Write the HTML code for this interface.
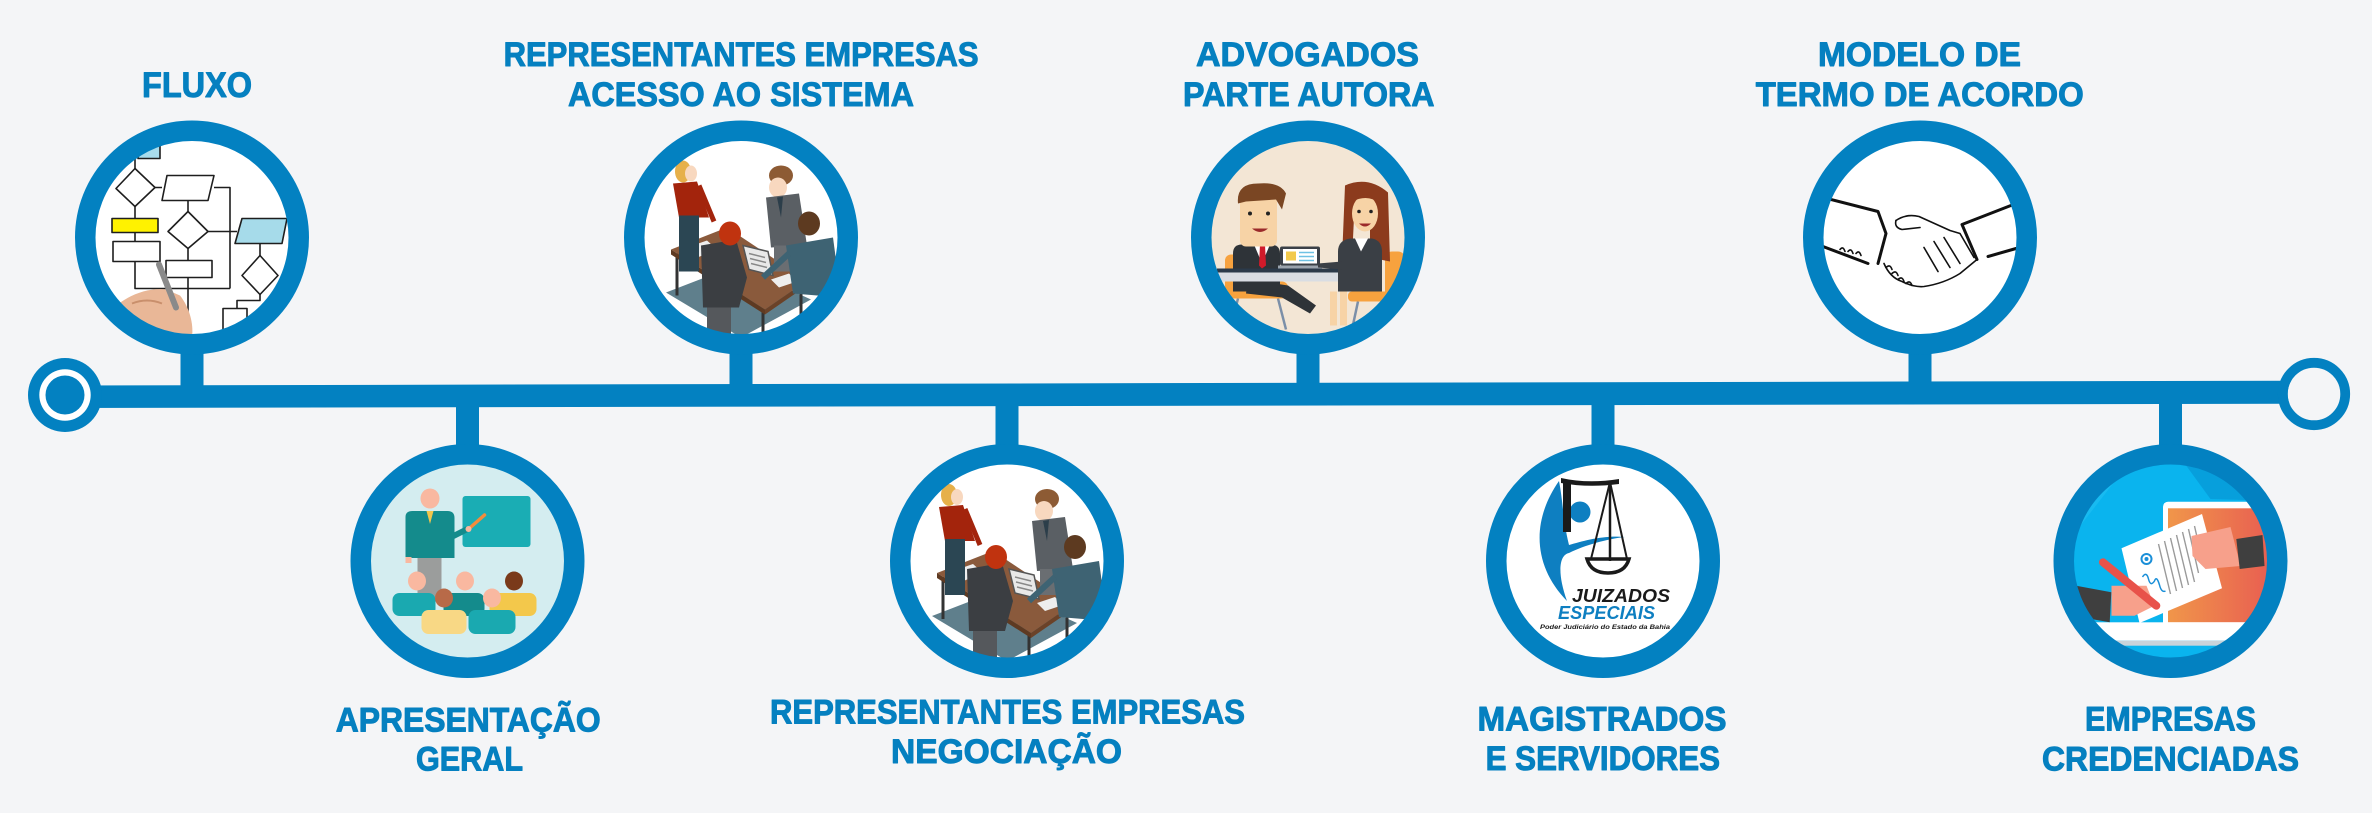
<!DOCTYPE html>
<html><head><meta charset="utf-8"><style>
html,body{margin:0;padding:0;background:#f4f5f7;}
svg{display:block;}
.t{font-family:"Liberation Sans",sans-serif;font-weight:bold;font-size:34px;fill:#0580c0;stroke:#0580c0;stroke-width:1;stroke-linejoin:round;}
</style></head><body>
<svg width="2372" height="813" viewBox="0 0 2372 813" xmlns="http://www.w3.org/2000/svg">
<defs>
<clipPath id="c"><circle cx="0" cy="0" r="97"/></clipPath>
<linearGradient id="scr" x1="0" y1="0" x2="1" y2="0"><stop offset="0" stop-color="#f0964a"/><stop offset="1" stop-color="#e85a52"/></linearGradient>
<g id="office">
<g clip-path="url(#c)">
<circle r="97" fill="#fff"/>
<polygon points="-75,55 -5,28 70,62 0,100" fill="#5f7f8c"/>
<g stroke="#333" stroke-width="3"><line x1="-64" y1="16" x2="-64" y2="58"/><line x1="22" y1="72" x2="22" y2="98"/><line x1="60" y1="48" x2="60" y2="82"/><line x1="-20" y1="-6" x2="-20" y2="30"/></g>
<polygon points="-70,12 -14,-10 66,43 24,72" fill="#8a5a3c"/>
<polygon points="-70,12 24,72 24,77 -70,17" fill="#5e3a22"/>
<polygon points="24,72 66,43 66,48 24,77" fill="#6b4228"/>
<polygon points="-57,11 -34,3 -24,12 -46,21" fill="#eee"/>
<polygon points="30,42 48,36 56,44 38,50" fill="#eee"/>
<ellipse cx="-58" cy="-66" rx="8" ry="11" fill="#e6b04a"/>
<ellipse cx="-50" cy="-64" rx="6" ry="8" fill="#f8d8bf"/>
<polygon points="-68,-54 -44,-56 -32,-20 -62,-20" fill="#a3240c"/>
<line x1="-42" y1="-52" x2="-27" y2="-16" stroke="#a3240c" stroke-width="5"/>
<rect x="-62" y="-22" width="20" height="56" fill="#2b4653"/>
<ellipse cx="40" cy="-62" rx="12" ry="10" fill="#8d5b34"/>
<ellipse cx="37" cy="-50" rx="9" ry="10" fill="#f8d8bf"/>
<polygon points="25,-40 58,-44 66,8 30,10" fill="#5a5f64"/>
<polygon points="36,-40 42,-41 40,-20" fill="#2c3e4a"/>
<rect x="33" y="8" width="20" height="26" fill="#6a6e72"/>
<rect x="-34" y="58" width="24" height="42" fill="#55585c"/>
<polygon points="-40,8 -5,2 6,40 -2,70 -38,70" fill="#3b3e42"/>
<ellipse cx="-11" cy="-4" rx="11" ry="12" fill="#c0330f"/>
<polygon points="2,8 27,14 32,38 8,32" fill="#e8e8e8" stroke="#555" stroke-width="1.5"/>
<g stroke="#888" stroke-width="1.5"><line x1="8" y1="16" x2="24" y2="20"/><line x1="9" y1="21" x2="25" y2="25"/><line x1="10" y1="26" x2="26" y2="30"/></g>
<ellipse cx="68" cy="-14" rx="11" ry="12" fill="#5d3a20"/>
<polygon points="45,8 92,0 100,60 52,56" fill="#3e6373"/>
<line x1="48" y1="16" x2="22" y2="40" stroke="#3e6373" stroke-width="6"/>
</g>
</g>
</defs>

<rect width="2372" height="813" fill="#f4f5f7"/>

<!-- timeline bar -->
<polygon points="65,385.5 2300,380.7 2300,403.7 65,408" fill="#0381c1"/>
<circle cx="65" cy="395" r="37" fill="#0381c1"/>
<circle cx="65" cy="395" r="25.7" fill="#ffffff"/>
<circle cx="65" cy="395" r="19.5" fill="#0381c1"/>
<circle cx="2314" cy="394" r="26.3" fill="#f4f5f7"/>
<circle cx="2314" cy="394" r="31.2" fill="none" stroke="#0381c1" stroke-width="9.8"/>

<!-- stems -->
<g fill="#0381c1">
<rect x="180.5" y="345" width="23" height="45"/>
<rect x="729.5" y="345" width="23" height="45"/>
<rect x="1296.5" y="345" width="23" height="42"/>
<rect x="1908.5" y="345" width="23" height="40"/>
<rect x="456" y="400" width="23" height="55"/>
<rect x="995.5" y="400" width="23" height="55"/>
<rect x="1591.5" y="398" width="23" height="57"/>
<rect x="2159" y="398" width="23" height="57"/>
</g>

<!-- Circle 1: flowchart -->
<g transform="translate(192,237.5)">
<g clip-path="url(#c)">
<circle r="97" fill="#fff"/>
<g fill="none" stroke="#1e1e1e" stroke-width="1.6" stroke-linejoin="round">
<rect x="-54" y="-100" width="22" height="21" fill="#a8dcec"/>
<path d="M-57,-79 V-69"/>
<path d="M-57,-69 L-37,-50 L-57,-31 L-76,-49 Z"/>
<path d="M-37,-50 H-30"/>
<path d="M-25,-62 H22 L16,-37 H-30 Z"/>
<path d="M22,-50 H38 V51"/>
<rect x="-80" y="-19" width="46" height="14" fill="#fff200"/>
<path d="M-57,-31 V-19 M-57,-5 V4"/>
<rect x="-79" y="4" width="47" height="20"/>
<path d="M-57,24 V51 H38"/>
<path d="M-4,-37 V-26"/>
<path d="M-4,-26 L16,-6 L-4,11 L-24,-6 Z"/>
<path d="M16,-6 H45"/>
<path d="M50,-19 H95 L90,6 H43 Z" fill="#a6dbea"/>
<path d="M68,6 V18"/>
<path d="M68,18 L86,38 L68,57 L50,38 Z"/>
<path d="M-4,11 V23"/>
<rect x="-26" y="23" width="46" height="17"/>
<path d="M-4,40 V100"/>
<path d="M68,57 V63 H45 V71"/>
<rect x="31" y="71" width="24" height="30"/>
</g>
<path d="M-78,70 C-62,56 -42,50 -26,52 L-12,58 C-4,68 2,84 0,100 L-80,100 Z" fill="#e9b797"/>
<path d="M-60,66 C-50,62 -40,62 -30,66" stroke="#c98f6c" stroke-width="2" fill="none"/>
<path d="M-33,27 L-16,70" stroke="#8a8a8a" stroke-width="6" stroke-linecap="round"/>
</g>
<circle r="106.75" fill="none" stroke="#0381c1" stroke-width="20.5"/>
</g>

<!-- Circle 2: presentation -->
<g transform="translate(467.5,561)">
<g clip-path="url(#c)">
<circle r="97" fill="#d4edf0"/>
<rect x="-5" y="-65" width="68" height="51" rx="3" fill="#1aadb4"/>
<line x1="0" y1="-31" x2="17" y2="-46" stroke="#f28c3c" stroke-width="3.5" stroke-linecap="round"/>
<rect x="-50" y="-4" width="24" height="40" fill="#9b9d9c"/>
<path d="M-62,-44 Q-62,-50 -55,-50 H-20 Q-13,-50 -13,-43 V-3 H-62 Z" fill="#148b8c"/>
<line x1="-16" y1="-24" x2="0" y2="-32" stroke="#148b8c" stroke-width="6"/>
<circle cx="1" cy="-32" r="3" fill="#f9b8a0"/>
<polygon points="-41,-50 -34,-50 -37.5,-37" fill="#f3c64c"/>
<rect x="-62" y="-4" width="6" height="6" fill="#f9b8a0"/>
<ellipse cx="-37.5" cy="-62.5" rx="9.5" ry="10" fill="#f9b8a0"/>
<rect x="-75" y="32" width="43" height="23" rx="7" fill="#1aa9b0"/>
<rect x="-24" y="32" width="41" height="23" rx="7" fill="#148b8c"/>
<rect x="22" y="32" width="47" height="23" rx="7" fill="#f3c84b"/>
<ellipse cx="-50.5" cy="20" rx="9" ry="9.5" fill="#f9b8a0"/>
<ellipse cx="-2.5" cy="20" rx="9" ry="9.5" fill="#f9b8a0"/>
<ellipse cx="46.5" cy="20" rx="9" ry="9.5" fill="#7a3a1a"/>
<rect x="-46" y="49" width="45" height="24" rx="7" fill="#f8d885"/>
<rect x="1" y="49" width="47" height="24" rx="7" fill="#1aa9b0"/>
<ellipse cx="-23.5" cy="37" rx="9" ry="9.5" fill="#b86a48"/>
<ellipse cx="24.5" cy="37" rx="9" ry="9.5" fill="#f9b8a0"/>
</g>
<circle r="106.75" fill="none" stroke="#0381c1" stroke-width="20.5"/>
</g>

<!-- Circle 3 & 5: office -->
<g transform="translate(741,237.5)">
<use href="#office"/>
<circle r="106.75" fill="none" stroke="#0381c1" stroke-width="20.5"/>
</g>
<g transform="translate(1007,561)">
<use href="#office"/>
<circle r="106.75" fill="none" stroke="#0381c1" stroke-width="20.5"/>
</g>

<!-- Circle 4: lawyers -->
<g transform="translate(1308,237.5)">
<g clip-path="url(#c)">
<circle r="97" fill="#f3e6d5"/>
<g stroke="#7b8fa8" stroke-width="2.5"><line x1="-70" y1="61" x2="-78" y2="92"/><line x1="-30" y1="61" x2="-22" y2="92"/><line x1="50" y1="64" x2="44" y2="92"/><line x1="80" y1="64" x2="86" y2="92"/></g>
<rect x="-83" y="17" width="17" height="38" rx="6" fill="#f7a23e"/>
<rect x="-80" y="44" width="60" height="17" rx="6" fill="#f7a23e"/>
<rect x="77" y="14" width="20" height="50" rx="7" fill="#f7a23e"/>
<rect x="40" y="54" width="44" height="10" rx="4" fill="#f7a23e"/>
<path d="M-60,42 L-20,48 L8,68 L2,76 L-26,60 L-62,56 Z" fill="#2e3338"/>
<path d="M-75,54 V16 Q-75,7 -66,7 H-38 Q-28,7 -28,16 V54 Z" fill="#2e3338"/>
<polygon points="-54,7 -38,7 -46,26" fill="#fff"/>
<polygon points="-48,7 -43,7 -42,28 -46,31 -49,28" fill="#d01a2a"/>
<rect x="-68" y="-41" width="37" height="50" rx="6" fill="#f7d3a6"/>
<path d="M-70,-34 Q-72,-54 -50,-54 Q-28,-56 -22,-44 L-26,-28 L-32,-38 L-62,-36 Z" fill="#7a4623"/>
<circle cx="-58" cy="-24" r="2" fill="#222"/><circle cx="-40" cy="-24" r="2" fill="#222"/>
<path d="M-56,-9 Q-48,-2 -40,-9 Z" fill="#9b2a2a"/>
<rect x="-91" y="31" width="135" height="4" fill="#2b3a4a"/>
<rect x="-90" y="35" width="130" height="9" fill="#d9dde3"/>
<rect x="-28" y="9" width="40" height="19" rx="2" fill="#3a4048"/>
<rect x="-25" y="11.5" width="34" height="14.5" fill="#fff"/>
<rect x="-22" y="14" width="10" height="9" fill="#f2c94c"/>
<g stroke="#6ec1e4" stroke-width="1.5"><line x1="-9" y1="15" x2="6" y2="15"/><line x1="-9" y1="19" x2="6" y2="19"/><line x1="-9" y1="23" x2="6" y2="23"/></g>
<rect x="-30" y="28" width="44" height="3" fill="#9aa3ad"/>
<rect x="22" y="54" width="7" height="34" fill="#f7d3a6"/>
<rect x="32" y="54" width="7" height="34" fill="#f7d3a6"/>
<path d="M37,-52 Q60,-62 80,-45 L82,24 L62,20 L62,-20 L46,-20 L44,22 L34,22 Z" fill="#8c3b1d"/>
<ellipse cx="57" cy="-24" rx="13" ry="18" fill="#f7d3a6"/>
<path d="M44,-36 Q58,-52 72,-34 Q60,-44 44,-36 Z" fill="#8c3b1d"/>
<circle cx="51" cy="-26" r="1.8" fill="#222"/><circle cx="63" cy="-26" r="1.8" fill="#222"/>
<path d="M51,-14 Q57,-8 63,-14 Z" fill="#9b2a2a"/>
<path d="M30,54 V14 Q30,3 42,1 H64 Q74,3 74,14 V54 Z" fill="#3a3f45"/>
<polygon points="47,1 60,1 53,14" fill="#fff"/>
<path d="M34,24 L10,26 L10,30 L34,32 Z" fill="#3a3f45"/>
</g>
<circle r="106.75" fill="none" stroke="#0381c1" stroke-width="20.5"/>
</g>

<!-- Circle 6: Juizados logo -->
<g transform="translate(1603,561)">
<g clip-path="url(#c)">
<circle r="97" fill="#fff"/>
<path d="M-44,-80 C-72,-40 -70,5 -36,40 C-46,12 -44,-6 -34,-8 C-18,-16 4,-22 22,-24 C0,-26 -20,-20 -34,-16 C-40,-40 -40,-60 -44,-80 Z" fill="#0e7fc1"/>
<circle cx="-23" cy="-49" r="10.5" fill="#0e7fc1"/>
<rect x="-40" y="-79" width="8" height="50" fill="#1a1a1a"/>
<path d="M-42,-83 Q-15,-77 16,-82 L16,-77 Q-15,-73 -42,-78 Z" fill="#1a1a1a"/>
<line x1="7" y1="-79" x2="7" y2="0" stroke="#1a1a1a" stroke-width="2.5"/>
<line x1="7" y1="-79" x2="-12" y2="-2" stroke="#1a1a1a" stroke-width="2"/>
<line x1="7" y1="-79" x2="24" y2="-2" stroke="#1a1a1a" stroke-width="2"/>
<path d="M-16,-2 H26 Q22,12 5,12 Q-12,12 -16,-2 Z" fill="none" stroke="#1a1a1a" stroke-width="3.5"/>
<text x="-31" y="41" textLength="98" lengthAdjust="spacingAndGlyphs" style="font-family:'Liberation Sans',sans-serif;font-weight:bold;font-style:italic;font-size:18px;fill:#1a1a1a">JUIZADOS</text>
<text x="-45" y="58" textLength="97" lengthAdjust="spacingAndGlyphs" style="font-family:'Liberation Sans',sans-serif;font-weight:bold;font-style:italic;font-size:18px;fill:#0e7fc1">ESPECIAIS</text>
<text x="-63" y="68" textLength="130" lengthAdjust="spacingAndGlyphs" style="font-family:'Liberation Sans',sans-serif;font-weight:bold;font-style:italic;font-size:6.5px;fill:#1a1a1a">Poder Judiciário do Estado da Bahia</text>
</g>
<circle r="106.75" fill="none" stroke="#0381c1" stroke-width="20.5"/>
</g>

<!-- Circle 7: handshake -->
<g transform="translate(1920,237.5)">
<g clip-path="url(#c)">
<circle r="97" fill="#fff"/>
<g fill="none" stroke="#111" stroke-linecap="round" stroke-linejoin="round">
<path d="M-97,-40 L-42,-26 L-34,-4 L-42,26" stroke-width="3"/>
<path d="M-97,9 L-52,26" stroke-width="3"/>
<path d="M96,-34 L42,-13 L57,22" stroke-width="3"/>
<path d="M96,11 L68,19" stroke-width="3"/>
<path d="M-24,-17 Q-14,-24 -1,-21 L30,-7 L40,-4 L54,20" stroke-width="1.6"/>
<path d="M-24,-17 Q-26,-10 -18,-8 L0,-10" stroke-width="1.6"/>
<path d="M-36,26 Q-30,40 -18,44 Q-6,50 4,49 Q24,46 40,36 L57,22" stroke-width="1.6"/>
<path d="M4,10 L18,34 M14,4 L30,30 M24,0 L40,26" stroke-width="1.6"/>
<path d="M-34,30 q4,-4 6,2 M-28,36 q4,-4 6,2 M-22,42 q4,-4 6,2 M-14,46 q4,-4 6,2" stroke-width="1.6"/>
<path d="M-80,12 q3,-4 5,2 M-72,14 q3,-4 5,2 M-64,16 q3,-4 5,2" stroke-width="1.6"/>
</g>
</g>
<circle r="106.75" fill="none" stroke="#0381c1" stroke-width="20.5"/>
</g>

<!-- Circle 8: e-contract -->
<g transform="translate(2170.5,561)">
<g clip-path="url(#c)">
<circle r="97" fill="#0ab4ee"/>
<polygon points="5,-110 110,-110 110,-60 40,-62" fill="#079fdc"/>
<polygon points="-102,-60 -60,-100 -40,-100 -102,-20" fill="#22c0f4" opacity="0.6"/>
<rect x="-7.5" y="-59.3" width="115" height="130" rx="5" fill="#fff"/>
<rect x="-2.5" y="-52.7" width="110" height="114" fill="url(#scr)"/>
<rect x="-102.5" y="61.3" width="205" height="18.4" fill="#fff"/>
<rect x="-102.5" y="79.7" width="205" height="5" fill="#c9d3da"/>
<polygon points="-49,-12.7 31.5,-47 51.5,27.3 -31,62" fill="#fff"/>
<g stroke="#9a9a9a" stroke-width="1.4">
<line x1="-12" y1="-17" x2="0" y2="33"/><line x1="-6" y1="-20" x2="6" y2="30"/><line x1="0" y1="-23" x2="12" y2="27"/><line x1="6" y1="-26" x2="18" y2="24"/><line x1="12" y1="-29" x2="24" y2="21"/><line x1="18" y1="-32" x2="28" y2="12"/><line x1="24" y1="-35" x2="32" y2="0"/>
</g>
<circle cx="-24" cy="-2" r="5" fill="none" stroke="#1a8fd8" stroke-width="2"/>
<circle cx="-24" cy="-2" r="2" fill="#1a8fd8"/>
<path d="M-28,16 q4,-6 6,2 q2,8 6,2 q2,-6 5,4 q2,8 6,6" fill="none" stroke="#1a8fd8" stroke-width="1.5"/>
<polygon points="21,-25 60,-34 70,5 35,8 22,-5" fill="#f7a08b"/>
<polygon points="65.8,-22 92,-26 94,5 69.2,8" fill="#3f3f3f"/>
<polygon points="-59,24.7 -24,24.7 -16,44.7 -36,54.7 -59,54.7" fill="#f7a08b"/>
<polygon points="-98,24 -59.2,31.3 -60.8,61.3 -98,54.7" fill="#3f3f3f"/>
<line x1="-67.5" y1="1.3" x2="-14.2" y2="44.7" stroke="#e8524a" stroke-width="8" stroke-linecap="round"/>
</g>
<circle r="106.75" fill="none" stroke="#0381c1" stroke-width="20.5"/>
</g>

<!-- Labels -->
<text class="t" x="142" y="97" textLength="110" lengthAdjust="spacingAndGlyphs" style="font-size:35px">FLUXO</text>
<text class="t" x="503.6" y="66" textLength="475" lengthAdjust="spacingAndGlyphs">REPRESENTANTES EMPRESAS</text>
<text class="t" x="568" y="106" textLength="346" lengthAdjust="spacingAndGlyphs">ACESSO AO SISTEMA</text>
<text class="t" x="1196" y="66" textLength="223" lengthAdjust="spacingAndGlyphs">ADVOGADOS</text>
<text class="t" x="1183" y="106" textLength="251.5" lengthAdjust="spacingAndGlyphs">PARTE AUTORA</text>
<text class="t" x="1818" y="66" textLength="203" lengthAdjust="spacingAndGlyphs">MODELO DE</text>
<text class="t" x="1755.7" y="106" textLength="328" lengthAdjust="spacingAndGlyphs">TERMO DE ACORDO</text>
<text class="t" x="335.7" y="731.5" textLength="265" lengthAdjust="spacingAndGlyphs">APRESENTAÇÃO</text>
<text class="t" x="416" y="770.5" textLength="107" lengthAdjust="spacingAndGlyphs">GERAL</text>
<text class="t" x="770" y="723.3" textLength="475" lengthAdjust="spacingAndGlyphs">REPRESENTANTES EMPRESAS</text>
<text class="t" x="891" y="763" textLength="231" lengthAdjust="spacingAndGlyphs">NEGOCIAÇÃO</text>
<text class="t" x="1477.5" y="730.7" textLength="249" lengthAdjust="spacingAndGlyphs">MAGISTRADOS</text>
<text class="t" x="1485.6" y="770" textLength="234.4" lengthAdjust="spacingAndGlyphs">E SERVIDORES</text>
<text class="t" x="2085" y="730.7" textLength="171" lengthAdjust="spacingAndGlyphs">EMPRESAS</text>
<text class="t" x="2042" y="770.5" textLength="257" lengthAdjust="spacingAndGlyphs">CREDENCIADAS</text>
</svg>
</body></html>
